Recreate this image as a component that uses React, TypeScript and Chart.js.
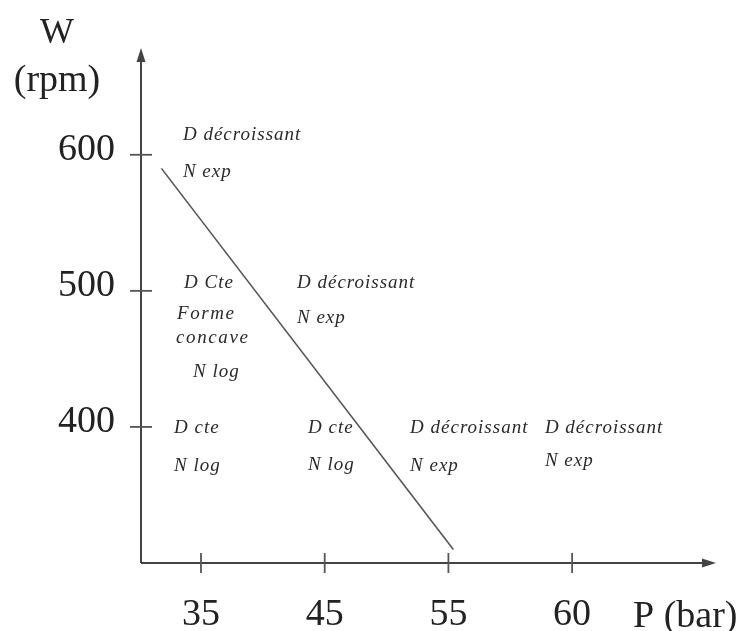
import React, { useEffect, useRef } from "react";
import { Chart, registerables } from "chart.js";

Chart.register(...registerables);

// Pressure tick labels (bar) shown at equally spaced positions along the axis
const pressureLabels = ["35", "45", "55", "60"];
const pressureTickPos = [0, 1, 2, 3];
// Speed ticks (rpm)
const speedTicks = [400, 500, 600];
// Boundary line (axis position units, rpm)
const boundaryPos = [-0.32, 2.04];
const boundarySpeed = [590, 310];
// Zone annotations
const zoneTexts = [
  "D décroissant", "N exp",
  "D Cte", "Forme", "concave", "N log",
  "D décroissant", "N exp",
  "D cte", "N log",
  "D cte", "N log",
  "D décroissant", "N exp",
  "D décroissant", "N exp",
];
const zonePos = [
  -0.146, -0.146,
  -0.137, -0.194, -0.202, -0.065,
  0.776, 0.776,
  -0.218, -0.218,
  0.865, 0.865,
  1.69, 1.69,
  2.78, 2.78,
];
const zoneSpeed = [
  614.7, 587.5,
  505.9, 483.1, 465.4, 440.4,
  505.9, 480.1,
  399.3, 371.3,
  399.3, 372.0,
  399.3, 371.3,
  399.3, 375.0,
];

const X_MIN = -0.485;
const X_MAX = 4.155;
const Y_MIN = 300;
const Y_MAX = 677;

const SERIF = '"Liberation Serif", "Times New Roman", serif';

const decorPlugin = {
  id: "decor",
  afterDraw(chart: any) {
    const { ctx, chartArea } = chart;
    const xs = chart.scales.x;
    const ys = chart.scales.y;
    const left = chartArea.left;
    const bottom = chartArea.bottom;
    const top = chartArea.top;
    const right = chartArea.right;
    ctx.save();
    // axes
    ctx.strokeStyle = "#444";
    ctx.fillStyle = "#444";
    ctx.lineWidth = 2;
    ctx.beginPath();
    ctx.moveTo(left, bottom);
    ctx.lineTo(left, top + 6);
    ctx.moveTo(left, bottom);
    ctx.lineTo(right - 6, bottom);
    ctx.stroke();
    // arrows
    ctx.beginPath();
    ctx.moveTo(left, top - 2);
    ctx.lineTo(left - 4.5, top + 12);
    ctx.lineTo(left + 4.5, top + 12);
    ctx.closePath();
    ctx.fill();
    ctx.beginPath();
    ctx.moveTo(right + 1, bottom);
    ctx.lineTo(right - 13, bottom - 4.5);
    ctx.lineTo(right - 13, bottom + 4.5);
    ctx.closePath();
    ctx.fill();
    // tick marks
    ctx.lineWidth = 1.8;
    ctx.strokeStyle = "#555";
    pressureTickPos.forEach((v) => {
      const px = xs.getPixelForValue(v);
      ctx.beginPath();
      ctx.moveTo(px, bottom - 10);
      ctx.lineTo(px, bottom + 10);
      ctx.stroke();
    });
    speedTicks.forEach((v) => {
      const py = ys.getPixelForValue(v);
      ctx.beginPath();
      ctx.moveTo(left - 11, py);
      ctx.lineTo(left + 11, py);
      ctx.stroke();
    });
    // axis titles
    ctx.fillStyle = "#222";
    ctx.textAlign = "center";
    ctx.textBaseline = "alphabetic";
    ctx.font = `36px ${SERIF}`;
    ctx.fillText("W", 57, 43);
    ctx.font = `38px ${SERIF}`;
    ctx.fillText("(rpm)", 57, 91);
    ctx.textAlign = "left";
    ctx.fillText("P (bar)", 633, 627);
    // annotations
    ctx.fillStyle = "#2a2a2a";
    ctx.textBaseline = "middle";
    ctx.font = `italic 19px ${SERIF}`;
    zoneTexts.forEach((t, i) => {
      const px = xs.getPixelForValue(zonePos[i]);
      const py = ys.getPixelForValue(zoneSpeed[i]);
      (ctx as any).letterSpacing = t === "Forme" || t === "concave" ? "1.6px" : "1px";
      ctx.fillText(t, px, py);
    });
    (ctx as any).letterSpacing = "0px";
    ctx.restore();
  },
};

export default function App() {
  const canvasRef = useRef<HTMLCanvasElement | null>(null);

  useEffect(() => {
    if (!canvasRef.current) return;
    const chart = new Chart(canvasRef.current, {
      type: "line",
      data: {
        datasets: [
          {
            data: boundaryPos.map((x, i) => ({ x, y: boundarySpeed[i] })),
            borderColor: "#555",
            borderWidth: 1.6,
            pointRadius: 0,
            fill: false,
            tension: 0,
          },
        ],
      },
      options: {
        animation: false,
        responsive: true,
        maintainAspectRatio: false,
        layout: { padding: { top: 50, right: 30, left: 0, bottom: 0 } },
        plugins: {
          legend: { display: false },
          tooltip: { enabled: false },
        },
        scales: {
          x: {
            type: "linear",
            min: X_MIN,
            max: X_MAX,
            grid: { display: false, drawTicks: false },
            border: { display: false },
            afterBuildTicks: (scale: any) => {
              scale.ticks = pressureTickPos.map((v) => ({ value: v }));
            },
            afterFit: (scale: any) => {
              scale.height = 68;
            },
            ticks: {
              autoSkip: false,
              maxRotation: 0,
              padding: 29,
              color: "#222",
              font: { family: SERIF, size: 38 },
              callback: (value: any) => {
                const idx = pressureTickPos.indexOf(Number(value));
                return idx >= 0 ? pressureLabels[idx] : "";
              },
            },
          },
          y: {
            type: "linear",
            min: Y_MIN,
            max: Y_MAX,
            grid: { display: false, drawTicks: false },
            border: { display: false },
            afterBuildTicks: (scale: any) => {
              scale.ticks = speedTicks.map((v) => ({ value: v }));
            },
            afterFit: (scale: any) => {
              scale.width = 141;
            },
            ticks: {
              autoSkip: false,
              padding: 26,
              labelOffset: -5,
              color: "#222",
              font: { family: SERIF, size: 38 },
              callback: (value: any) => String(value),
            },
          },
        },
      },
      plugins: [decorPlugin],
    } as any);
    return () => chart.destroy();
  }, []);

  return (
    <div
      style={{
        position: "fixed",
        left: 0,
        top: 0,
        width: 745,
        height: 631,
        background: "#fff",
      }}
    >
      <canvas ref={canvasRef} />
    </div>
  );
}
